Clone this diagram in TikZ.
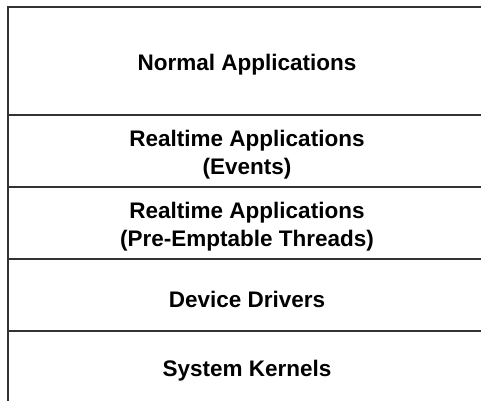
\documentclass[tikz,border=0pt]{standalone}
\usepackage{fontspec}
\setmainfont{Liberation Sans}
\tikzset{
  layer/.style={draw=black!80, line width=2.4pt, minimum width=478pt, outer sep=0pt, inner sep=0pt, anchor=north west},
  caption/.style={align=center, font=\bfseries\fontsize{22.5}{28}\selectfont}
}
\begin{document}
\begin{tikzpicture}[x=1pt,y=-1pt]
\useasboundingbox (0,0) rectangle (481,400);
\clip (0,0) rectangle (481,400);

% layers: top edge / height / name
\foreach \ytop/\hgt/\name in {7/108/normal,115/72/events,187/72/threads,259/72/drivers,331/72/kernels}
\node[layer, minimum height=\hgt pt] (\name) at (8,\ytop) {};

% captions, a bit below the middle of each layer
\foreach \name/\txt in {normal/Normal Applications,events/{Realtime Applications\\(Events)},threads/{Realtime Applications\\(Pre-Emptable Threads)},drivers/Device Drivers,kernels/System Kernels}
\node[caption] (\name-txt) at ([yshift=-4pt]\name.center) {\txt};

\end{tikzpicture}
\end{document}
